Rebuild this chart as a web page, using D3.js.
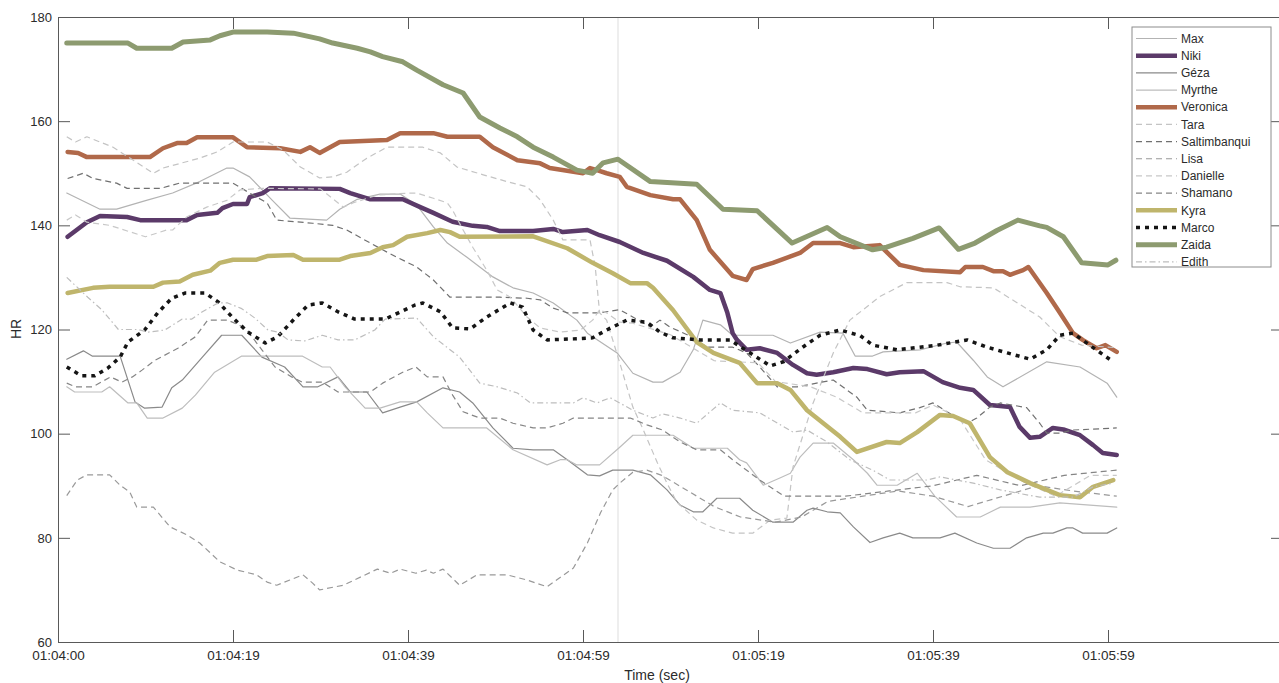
<!DOCTYPE html>
<html>
<head>
<meta charset="utf-8">
<script src="https://cdn.jsdelivr.net/npm/d3@7/dist/d3.min.js"></script>
<style>
  body { margin: 0; background: #fff; }
  text { font-family: "Liberation Sans", Arial, sans-serif; fill: #2b2b2b; }
</style>
</head>
<body>
<svg id="chart" width="1279" height="683"></svg>
<script>
// Heart rate (bpm) per rider, as [seconds since 01:04:00, HR] pairs
const max = [[1,146.2],[4.8,143.1],[6.7,143.1],[10.1,144.8],[13.1,146.2],[16.2,148.4],[19.3,151],[20,151],[21.9,149.3],[24.5,144.8],[26.5,141.4],[30.7,141],[32.2,143.1],[34.2,145],[36.8,146],[39.1,146],[41,143.9],[42.9,139.7],[44.5,136.6],[46.7,133.9],[49.7,130.1],[52,128],[54.3,127],[56.6,125.1],[59.3,121.8],[60.5,119.3],[63.9,115.5],[65.7,111.6],[68,109.9],[69.1,109.9],[71.1,111.8],[72.6,116.1],[73.7,121.8],[75.7,120.9],[77.1,118.9],[81.7,118.9],[83.7,117.4],[87.1,119.5],[89.7,119.3],[91.1,114.9],[93.1,114.9],[94.3,115.7],[98.5,116.1],[101.6,117.4],[102.7,117.6],[104.6,114.1],[106.2,110.9],[108,109],[113,113.8],[116.8,112.8],[119.9,109.7],[121,107]];
const niki = [[1.1,137.8],[3.3,140.6],[4.8,141.8],[7.9,141.6],[9.4,141],[14.7,141],[15.9,142],[18.2,142.4],[18.8,143.3],[20,144.1],[21.6,144.1],[21.9,145.4],[23.4,146.2],[24.2,147.1],[32.2,147],[33.4,146.2],[35.7,145],[39.4,145],[41.4,143.5],[42.9,142.4],[45.1,140.7],[47.4,139.9],[49,139.7],[50.5,138.9],[54.3,138.9],[56.6,139.3],[57.7,138.7],[60.5,139.1],[61.9,138.1],[64.2,136.8],[66.9,134.7],[69.6,133.2],[72.6,130.1],[74.5,127.6],[75.7,127],[76.5,123.2],[77.1,119.3],[77.6,118],[78.7,116.1],[80.2,116.4],[82.2,115.5],[84,113.2],[85.6,111.6],[86.7,111.3],[88.6,111.8],[90.9,112.6],[92.5,112.4],[94.7,111.4],[96.2,111.8],[98.9,112],[101.1,109.9],[103.1,108.8],[104.6,108.4],[106.5,105.5],[108.8,105.1],[109.9,101.3],[111.1,99.2],[112.2,99.4],[113.7,101.1],[114.9,100.8],[116.8,99.7],[118.3,97.8],[119.4,96.3],[121,95.9]];
const geza = [[1,114.3],[2.9,115.9],[3.9,114.9],[7.1,114.9],[8.8,106.1],[9.9,104.9],[11.9,105.1],[13,108.8],[14.2,110.3],[16.5,114.7],[18.7,118.9],[21,118.9],[23.3,114.7],[25.9,112.8],[28,109],[29.7,109],[32,110.9],[33.4,108],[35.3,108],[37.1,104],[39.1,105.1],[41,106.1],[44,108.8],[45.9,108],[47.4,105.9],[49.7,101.1],[52,97.2],[54.3,96.9],[56.6,96.9],[58.2,95],[60.5,92.1],[61.9,91.9],[63.4,93],[65.7,93],[67.7,92.1],[69.6,89.2],[71.1,86.3],[72.6,85],[73.7,85],[75.3,87.6],[77.9,87.6],[79.4,85.3],[81.7,83],[84,83],[85.6,85.3],[86.3,85.7],[87.9,85],[89.4,84.8],[90.9,82.1],[92.8,79.1],[94.3,80],[96.2,80.9],[97.7,80],[100.8,80],[102.5,80.9],[105,79],[106.9,78],[108.8,78],[110.7,80],[112.6,80.9],[113.7,80.9],[115.3,81.9],[116,81.9],[117.1,80.9],[119.9,80.9],[121,81.9]];
const myrthe = [[1,109],[1.9,108],[5,108],[5.9,109],[8,105.9],[9,105.9],[10.2,103],[12,103],[14.2,104.9],[15.7,107.4],[17.9,111.8],[21,114.9],[27.9,114.9],[30.2,112.8],[31.1,112.8],[32.8,109],[35.1,104.9],[36.8,104.9],[39.1,106.1],[41,106.1],[42.2,104],[44,101.1],[49,101.1],[52,96.9],[55.9,94],[57.4,95],[58.2,95],[59.3,94],[61.9,94],[64.2,97.4],[65.7,99.7],[70.3,99.7],[72.6,97.2],[76.5,97.2],[77.9,95],[78.7,94.4],[80.6,90.1],[82.5,91.5],[83.7,92.4],[84.8,95.5],[86.3,98.2],[88.6,98.2],[90.9,95],[92.5,92.4],[93.6,90.1],[95.9,90.1],[98.2,92.4],[100.2,88],[102.7,84],[105.4,84],[107.7,85.9],[111.1,85.9],[114.5,86.7],[121,85.9]];
const veronica = [[1.1,154.1],[2.3,153.9],[3.3,153.1],[10.5,153.1],[12,154.8],[13.6,155.8],[14.7,155.8],[15.9,156.9],[20,156.9],[21.6,155],[25.4,154.8],[27.7,154.1],[28.8,155],[29.9,153.9],[32.2,156],[37.6,156.4],[39.1,157.7],[42.9,157.7],[44.5,157],[48.2,157],[49.7,155],[52.5,152.5],[55.1,151.9],[56.2,151],[60,150],[60.8,151],[61.6,150.6],[62.7,150],[64.2,149.3],[65,147.4],[67.7,145.8],[70.3,145],[71.1,145],[73,141],[74.5,135.3],[77.1,130.3],[78.7,129.5],[79.4,131.6],[81.7,132.8],[84.8,134.7],[86.3,136.6],[89.4,136.6],[90.9,135.8],[93.9,136.2],[96.2,132.4],[98.9,131.4],[103.1,131],[103.7,132],[105.7,132],[106.9,131.2],[108,131.2],[108.8,130.5],[110.3,131.4],[110.9,132],[113,127],[114.5,123.2],[116,119.3],[117.1,118],[118.7,116.4],[119.7,117],[121,115.7]];
const tara = [[1,157],[2,156],[3.3,157],[4.8,156],[6.3,155],[10.9,150],[12,151],[16.2,152.9],[18.2,154.1],[20,156],[23.9,156],[25.7,154.5],[27.7,151.2],[29.9,149.1],[31.4,149.3],[33,150.2],[35.3,152.9],[37.6,155],[41.7,155],[43.7,153.9],[45.6,151.2],[48.6,149.7],[51.3,148.4],[53.6,147.4],[55.1,144.9],[56.6,141],[57.7,137.2],[60.8,137.2],[61.4,132],[61.9,123.2],[62.7,121.8],[64.2,113.6],[65.7,105.1],[66.9,100.7],[68.5,94.4],[69.6,90.5],[70.7,86.9],[73,83.4],[74.9,81.9],[77.1,80.9],[79.4,80.9],[81.4,83.4],[83.3,83.8],[84,93.6],[86.3,105.9],[88.6,115.5],[90.5,121.8],[93.9,126.3],[97,129],[101.6,129],[103.1,128.2],[106.9,128],[112.2,122.4],[114.5,118.6],[117,117],[121,116.5]];
const saltimbanqui = [[1.1,149],[2.9,150],[4,149],[6.7,148.1],[7.9,147.1],[11.7,147.1],[13.9,148.1],[20,148.1],[22.3,145.8],[23.9,144.3],[25,141],[29.1,140.4],[31.4,140],[33,139.1],[37.1,135.3],[38.7,133.9],[41,132],[42.9,129.5],[44.8,126.2],[50.5,126.2],[53.6,126],[55.1,125.7],[56.6,124.1],[58.2,123.2],[61.9,123.2],[64.2,123.8],[67.7,120.5],[68.8,121.8],[69.9,120.5],[71.9,119],[74.2,116.6],[77.1,116.6],[78.7,115.5],[80.2,112.8],[82.2,109],[84.5,109],[86.7,109.7],[88.6,110.3],[91.3,107],[92.5,104.5],[96.2,104],[98.5,105],[100,105.9],[101.6,104.2],[103.9,102],[105,103],[106.5,105.1],[107.7,105.9],[110.7,105],[112.2,102],[113,100.1],[114.5,100.1],[116,100.7],[121,101.1]];
const lisa = [[1,88.1],[2.2,91.1],[3.3,92.1],[5.9,92.1],[7.1,90.1],[8.2,88.8],[9,85.9],[10.9,85.9],[12.8,82.1],[14.7,80.6],[16.2,79],[18.5,75.4],[20.5,73.8],[22.7,72.9],[23.9,71.5],[25,70.9],[26.5,71.9],[28,72.9],[29.1,71.3],[29.9,70],[32.6,70.9],[36.5,74],[38,73.2],[39.1,74],[40.9,73.2],[42.1,73.8],[42.9,73.2],[44,74],[45.9,70.9],[47.9,72.9],[51.3,72.9],[53.6,71.9],[55.9,70.6],[58.9,74.2],[60.5,79],[62,84.8],[63.4,89.2],[64.2,90.5],[65.7,92.6],[67.3,93],[69,92],[72,89],[75,86],[78,84],[82,83],[85,84],[88,87],[92,88],[96,89],[100,88],[104,86],[108,88],[112,90],[116,89],[121,88]];
const danielle = [[1,141],[2,142],[3.3,140.6],[5.9,140],[10,137.8],[12.4,139.1],[13.1,139.1],[14.7,141.6],[17,143.5],[19.3,144.8],[20.8,146.8],[23.4,147.1],[30,147],[32.6,143.5],[33.7,144.3],[36.5,145.8],[40.2,146.2],[41,146.2],[42.9,145.2],[44.5,144.3],[45.1,142.9],[46.3,139.1],[47.4,135.8],[49,131.4],[50.2,127.6],[51.7,126.2],[53.6,122.4],[55.1,120.3],[57.4,119.5],[59.7,119.9],[61.1,121.8],[61.9,123.8],[62.7,123.2],[64.2,121.4],[65.7,121.2],[70,119],[75,114],[80,113.6],[82,110],[86,109],[89,107],[92,104],[98,104],[100,105.5],[103,103],[106,95],[110,91],[114,88],[118,92],[121,92]];
const shamano = [[1,109.7],[2,109],[4,109],[6,110.9],[7.3,109.9],[8.5,110.9],[9.6,112.2],[11.1,114.1],[13.7,116.4],[15.7,118.6],[17.1,121.8],[19.4,121.8],[21.4,120.3],[23.3,116.1],[24.8,112.8],[26.7,110.9],[27.9,109.9],[30.2,109.9],[32,108],[35.7,108],[37.1,109.7],[39.4,111.8],[40.9,112.8],[42.2,110.9],[44,110.9],[45.1,107.4],[46.3,104.2],[48.2,103],[50.5,103],[52,102],[54.3,101.1],[55.9,101.1],[57.7,102],[58.9,103],[65.4,103],[67.3,101.7],[69.1,100.7],[71.1,98.4],[73,96.9],[75.7,96.9],[77.1,95],[80.2,91.1],[83,88],[90,88],[95,89],[100,90],[105,92],[110,90],[115,92],[121,93]];
const kyra = [[1.1,127],[4,128],[5.9,128.2],[10.9,128.2],[12,129],[13.9,129.2],[15.4,130.5],[17.4,131.3],[18.5,132.8],[20,133.4],[22.7,133.4],[23.9,134.1],[26.9,134.3],[28,133.4],[32.2,133.4],[33.4,134.1],[35.7,134.7],[37.1,135.8],[38.3,136.2],[39.9,137.8],[42.2,138.5],[43.7,139.1],[44.8,138.7],[45.9,137.8],[54.3,137.9],[58.2,135.6],[61.1,132.8],[63.4,130.8],[65.4,128.9],[67.3,128.9],[68,128],[70.3,123.7],[73,117.6],[74.9,115.5],[77.9,113.6],[79.9,109.7],[82.2,109.7],[83.7,108.4],[85.6,104.5],[89.4,99.4],[91.3,96.5],[94.7,98.4],[96.2,98.2],[98.2,100.3],[100.8,103.6],[102.3,103.4],[104.2,102],[106.5,95.5],[108.5,92.6],[111.1,90.5],[114.5,88.2],[116.8,87.8],[118.3,89.8],[120.6,91.1]];
const marco = [[1,112.8],[2.7,111.1],[4.2,111.1],[5.7,112.6],[7.1,114.7],[8,117.6],[9.9,119.9],[11.4,123.2],[13,126],[14.5,127],[16.8,127],[18.3,125.3],[19.9,122.4],[21.7,119.5],[23.7,117.4],[25.1,118.6],[27.1,122.2],[28.6,124.7],[30.2,125.1],[32,123.4],[33.9,122],[37.4,122],[38.9,123.2],[40.8,124.7],[41.7,125.1],[43.7,123.4],[45.1,120.3],[47.1,120.1],[49,122.4],[51.7,125.1],[53.1,124.3],[54.3,119.9],[55.9,118],[58.9,118.2],[61.1,118.4],[62.7,119.9],[65,121.8],[67.3,121.4],[68.8,119.5],[70.3,118.4],[73.4,118],[76.8,118],[79.1,115.5],[81.4,113],[82.9,113.8],[85.1,116.6],[87.1,118.9],[89.4,119.9],[91.7,118.8],[93.1,117],[95.9,116.1],[98.5,116.6],[100.5,117],[103.9,118],[106.2,116.6],[108.5,115.5],[111.1,114.3],[113,116.1],[114.5,118.9],[116,119.3],[117.9,117],[120.6,113.8]];
const zaida = [[1,175],[8,175],[9,174],[13,174],[14.3,175.2],[17.4,175.6],[18.5,176.4],[20,177.1],[23.9,177.1],[26.9,176.9],[29.9,175.8],[31.4,175],[34.2,174],[35.7,173.3],[37.1,172.4],[39.4,171.4],[41,169.8],[44,167],[46.3,165.4],[48.2,160.8],[50.5,158.7],[52.5,157],[54.3,155],[56.6,153.1],[59.3,150.6],[61.1,150],[62.3,152],[64,152.7],[67.7,148.4],[73,147.9],[76,143.1],[79.9,142.8],[83.9,136.6],[87.9,139.6],[89.4,137.8],[93.1,135.3],[94.7,135.8],[97.7,137.5],[100.7,139.5],[102.9,135.4],[104.8,136.6],[107.3,139],[109.7,141],[112.2,139.9],[113,139.6],[114.9,137.8],[117,132.8],[120,132.4],[120.9,133.3]];
const edith = [[1,130],[3.4,126.2],[5,123.8],[6.9,120],[9.1,120],[10.3,119.5],[12.2,119.9],[14.2,122],[15.3,122],[16.5,123.4],[18.3,125.1],[19.4,125.1],[21,124],[22.5,122.2],[24,119.9],[25.1,119.5],[26.3,118],[28.2,117.8],[30.2,118.9],[32,118],[33.9,118],[36.2,119.9],[37.4,122],[41,122.2],[42.9,118.6],[45.9,114.7],[48.2,109.7],[50.2,109],[52.5,107.8],[54,105.9],[58.9,105.9],[60,106.9],[61.6,105.9],[63.1,106.9],[65.7,104.5],[68,103],[69.1,103.8],[71.1,103],[73,102],[75.7,105.9],[77.1,104.5],[80.2,104],[84,100.3],[85.6,100.7],[87.9,98.4],[90.5,95],[93.1,93],[95.1,91.1],[99.3,91.1],[100.8,91.7],[104.6,90.5],[107.7,89.2],[112.2,87.8],[116,87.8],[118.3,89.8],[120.6,90.5]];

const riderNames = ["Max","Niki","Géza","Myrthe","Veronica","Tara","Saltimbanqui","Lisa","Danielle","Shamano","Kyra","Marco","Zaida","Edith"];
const riderData = [max, niki, geza, myrthe, veronica, tara, saltimbanqui, lisa, danielle, shamano, kyra, marco, zaida, edith];

const xTickSecs = [0, 20, 40, 60, 80, 100, 120];
const xTickLabels = ["01:04:00","01:04:19","01:04:39","01:04:59","01:05:19","01:05:39","01:05:59"];
const yTicks = [60, 80, 100, 120, 140, 160, 180];
const markerSec = 64;

// Line styles per rider (same order as riderNames)
const styles = [
  { color: "#b3b3b3", width: 1.2, dash: null },
  { color: "#5b3a69", width: 4.5, dash: null },
  { color: "#8a8a8a", width: 1.2, dash: null },
  { color: "#bdbdbd", width: 1.2, dash: null },
  { color: "#b0694a", width: 4.5, dash: null },
  { color: "#c4c4c4", width: 1.2, dash: "6,4" },
  { color: "#707070", width: 1.2, dash: "6,4" },
  { color: "#999999", width: 1.2, dash: "6,4" },
  { color: "#c8c8c8", width: 1.2, dash: "6,4" },
  { color: "#858585", width: 1.2, dash: "6,4" },
  { color: "#bfb56c", width: 4.5, dash: null },
  { color: "#151515", width: 3.5, dash: "4,5" },
  { color: "#8d9b70", width: 5,   dash: null },
  { color: "#bdbdbd", width: 1.2, dash: "6,3,1.5,3" }
];

const svg = d3.select("#chart");
const M = { left: 58, top: 17, right: 1283, bottom: 642 };

const x = d3.scaleLinear().domain([0, 140]).range([M.left, M.right]);
const y = d3.scaleLinear().domain([60, 180]).range([M.bottom, M.top]);

const axisColor = "#595959";

// Faint vertical marker
svg.append("line")
  .attr("x1", x(markerSec)).attr("x2", x(markerSec))
  .attr("y1", M.top).attr("y2", M.bottom)
  .attr("stroke", "#eeeeee").attr("stroke-width", 2);

// Series
const line = d3.line().x(d => x(d[0])).y(d => y(d[1]));
const plot = svg.append("g");
riderData.forEach((data, i) => {
  const s = styles[i];
  plot.append("path")
    .datum(data)
    .attr("d", line)
    .attr("fill", "none")
    .attr("stroke", s.color)
    .attr("stroke-width", s.width)
    .attr("stroke-linejoin", "round")
    .attr("stroke-linecap", s.dash ? "butt" : "round")
    .attr("stroke-dasharray", s.dash);
});

// Axes (ticks pointing inward, mirrored on top/right)
function styleAxis(g) {
  g.select(".domain").attr("stroke", axisColor);
  g.selectAll(".tick line").attr("stroke", axisColor);
  g.selectAll(".tick text").attr("fill", "#2b2b2b")
    .style("font-family", '"Liberation Sans", Arial, sans-serif');
}

svg.append("g")
  .attr("transform", `translate(0,${M.bottom})`)
  .call(d3.axisBottom(x).tickValues(xTickSecs).tickFormat((d, i) => xTickLabels[i]).tickSizeInner(-12).tickSizeOuter(0).tickPadding(8))
  .call(styleAxis)
  .call(g => g.selectAll(".tick text").style("font-size", "13.5px"));

svg.append("g")
  .attr("transform", `translate(0,${M.top})`)
  .call(d3.axisTop(x).tickValues(xTickSecs).tickFormat("").tickSizeInner(-12).tickSizeOuter(0))
  .call(styleAxis);

svg.append("g")
  .attr("transform", `translate(${M.left},0)`)
  .call(d3.axisLeft(y).tickValues(yTicks).tickSizeInner(-12).tickSizeOuter(0).tickPadding(6))
  .call(styleAxis)
  .call(g => g.selectAll(".tick text").style("font-size", "13px"));

svg.append("g")
  .attr("transform", `translate(${M.right},0)`)
  .call(d3.axisRight(y).tickValues(yTicks).tickFormat("").tickSizeInner(-12).tickSizeOuter(0))
  .call(styleAxis);

// Axis titles
svg.append("text")
  .attr("x", 657).attr("y", 680)
  .attr("text-anchor", "middle")
  .style("font-size", "14px")
  .text("Time (sec)");

svg.append("text")
  .attr("transform", "translate(21,329) rotate(-90)")
  .attr("text-anchor", "middle")
  .style("font-size", "14px")
  .text("HR");

// Legend
const L = { x: 1132, y: 27, w: 139, h: 240, row: 17.18, first: 38.5 };
const legend = svg.append("g");
legend.append("rect")
  .attr("x", L.x).attr("y", L.y).attr("width", L.w).attr("height", L.h)
  .attr("fill", "#fff").attr("stroke", "#8c8c8c").attr("stroke-width", 1);

riderNames.forEach((name, i) => {
  const s = styles[i];
  const cy = L.first + i * L.row;
  legend.append("line")
    .attr("x1", 1136).attr("x2", 1177)
    .attr("y1", cy).attr("y2", cy)
    .attr("stroke", s.color)
    .attr("stroke-width", s.width)
    .attr("stroke-linecap", "butt")
    .attr("stroke-dasharray", s.dash);
  legend.append("text")
    .attr("x", 1181).attr("y", cy)
    .attr("dy", "0.35em")
    .style("font-size", "12px")
    .text(name);
});
</script>
</body>
</html>
